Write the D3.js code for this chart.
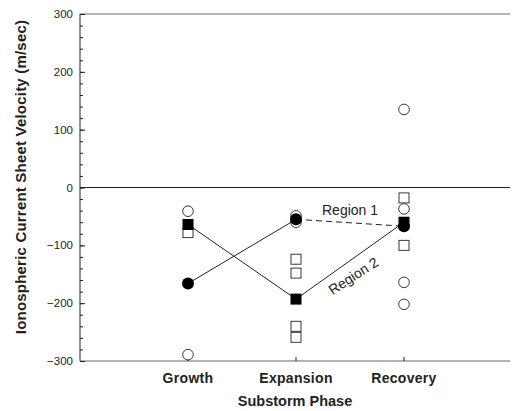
<!DOCTYPE html>
<html>
<head>
<meta charset="utf-8">
<script src="https://cdn.jsdelivr.net/npm/d3@7"></script>
<style>
  body { margin: 0; background: #fff; }
  svg { font-family: "Liberation Sans", Arial, sans-serif; }
</style>
</head>
<body>
<svg id="chart" width="512" height="411"></svg>
<script>
const categories = ['Growth', 'Expansion', 'Recovery'];
const yTicks = [-300, -200, -100, 0, 100, 200, 300];

// filled markers joined by lines
const region1 = [-166, -55, -67];   // filled circles
const region2 = [-64, -193, -60];   // filled squares

// individual events (open markers)
const openCircles = [
    ['Growth', -41], ['Growth', -289],
    ['Expansion', -49], ['Expansion', -60],
    ['Recovery', 135], ['Recovery', -37], ['Recovery', -164], ['Recovery', -202]
];
const openSquares = [
    ['Growth', -78],
    ['Expansion', -124], ['Expansion', -148], ['Expansion', -240], ['Expansion', -259],
    ['Recovery', -18], ['Recovery', -100]
];

const svg = d3.select('#chart');
const margin = { top: 14, right: 0, bottom: 50, left: 80 };
const width = +svg.attr('width') - margin.left - margin.right;
const height = +svg.attr('height') - margin.top - margin.bottom;
const ink = '#222';

const x = d3.scalePoint()
    .domain(categories)
    .range([0, width])
    .padding(1);

const y = d3.scaleLinear()
    .domain([-300, 300])
    .range([height, 0]);

const chart = svg.append('g')
    .attr('transform', `translate(${margin.left},${margin.top})`);

// frame: left axis, top, bottom and zero lines
chart.append('line').attr('x1', 0).attr('x2', 0).attr('y1', 0).attr('y2', height)
    .attr('stroke', ink);
[300, 0, -300].forEach(v => {
    chart.append('line')
        .attr('x1', 0).attr('x2', width - 2)
        .attr('y1', y(v)).attr('y2', y(v))
        .attr('stroke', v === 0 ? ink : '#555')
        .attr('stroke-width', v === 0 ? 1 : 0.9);
});

// y axis ticks pointing inward
const yAxis = chart.append('g').attr('class', 'y-axis')
    .call(d3.axisRight(y).tickValues(d3.range(-300, 301, 20)).tickSize(3).tickFormat(''));
yAxis.select('.domain').remove();
yAxis.selectAll('line').attr('stroke', ink);
chart.append('g')
    .call(d3.axisRight(y).tickValues(yTicks).tickSize(5).tickFormat(''))
    .call(g => g.select('.domain').remove())
    .selectAll('line').attr('stroke', ink);

chart.selectAll('.ylab')
    .data(yTicks)
    .enter().append('text')
    .attr('x', -7)
    .attr('y', d => y(d))
    .attr('dy', '0.35em')
    .attr('text-anchor', 'end')
    .attr('font-size', 11.5)
    .attr('fill', ink)
    .text(d => d < 0 ? '\u2212' + Math.abs(d) : d);

// x ticks on bottom line
chart.selectAll('.xtick')
    .data(categories)
    .enter().append('line')
    .attr('x1', d => x(d)).attr('x2', d => x(d))
    .attr('y1', height).attr('y2', height - 4)
    .attr('stroke', ink);

chart.selectAll('.xlab')
    .data(categories)
    .enter().append('text')
    .attr('x', d => x(d))
    .attr('y', height + 22)
    .attr('text-anchor', 'middle')
    .attr('font-size', 14)
    .attr('font-weight', 'bold')
    .attr('letter-spacing', 0.3)
    .attr('fill', ink)
    .text(d => d);

svg.append('text')
    .attr('x', margin.left + x('Expansion') - 1)
    .attr('y', 406)
    .attr('text-anchor', 'middle')
    .attr('font-size', 14.5)
    .attr('font-weight', 'bold')
    .attr('fill', ink)
    .text('Substorm Phase');

svg.append('text')
    .attr('transform', `translate(26,${177}) rotate(-90)`)
    .attr('text-anchor', 'middle')
    .attr('font-size', 15)
    .attr('font-weight', 'bold')
    .attr('letter-spacing', 0.2)
    .attr('fill', ink)
    .text('Ionospheric Current Sheet Velocity (m/sec)');

// connecting lines
const pts1 = categories.map((c, i) => [x(c), y(region1[i])]);
const pts2 = categories.map((c, i) => [x(c), y(region2[i])]);
const line = d3.line();
chart.append('path').attr('d', line(pts1.slice(0, 2)))
    .attr('fill', 'none').attr('stroke', ink);
chart.append('path').attr('d', line(pts1.slice(1)))
    .attr('fill', 'none').attr('stroke', ink).attr('stroke-dasharray', '6,4');
chart.append('path').attr('d', line(pts2))
    .attr('fill', 'none').attr('stroke', ink);

// open markers
const sq = 10;
chart.selectAll('.osq')
    .data(openSquares)
    .enter().append('rect')
    .attr('x', d => x(d[0]) - sq / 2)
    .attr('y', d => y(d[1]) - sq / 2)
    .attr('width', sq).attr('height', sq)
    .attr('fill', 'white').attr('stroke', ink).attr('stroke-width', 0.9);

chart.selectAll('.ocirc')
    .data(openCircles)
    .enter().append('circle')
    .attr('cx', d => x(d[0]))
    .attr('cy', d => y(d[1]))
    .attr('r', 5.3)
    .attr('fill', 'white').attr('stroke', ink).attr('stroke-width', 0.9);

// filled markers
chart.selectAll('.fsq')
    .data(region2)
    .enter().append('rect')
    .attr('x', (d, i) => x(categories[i]) - 5.5)
    .attr('y', d => y(d) - 5.5)
    .attr('width', 11).attr('height', 11)
    .attr('fill', '#000');

chart.selectAll('.fcirc')
    .data(region1)
    .enter().append('circle')
    .attr('cx', (d, i) => x(categories[i]))
    .attr('cy', d => y(d))
    .attr('r', 6)
    .attr('fill', '#000');

// region labels
chart.append('text')
    .attr('x', 242).attr('y', 201)
    .attr('font-size', 14)
    .attr('fill', ink)
    .text('Region 1');

chart.append('text')
    .attr('transform', 'translate(276,266) rotate(-33)')
    .attr('text-anchor', 'middle')
    .attr('font-size', 14)
    .attr('fill', ink)
    .text('Region 2');
</script>
</body>
</html>
